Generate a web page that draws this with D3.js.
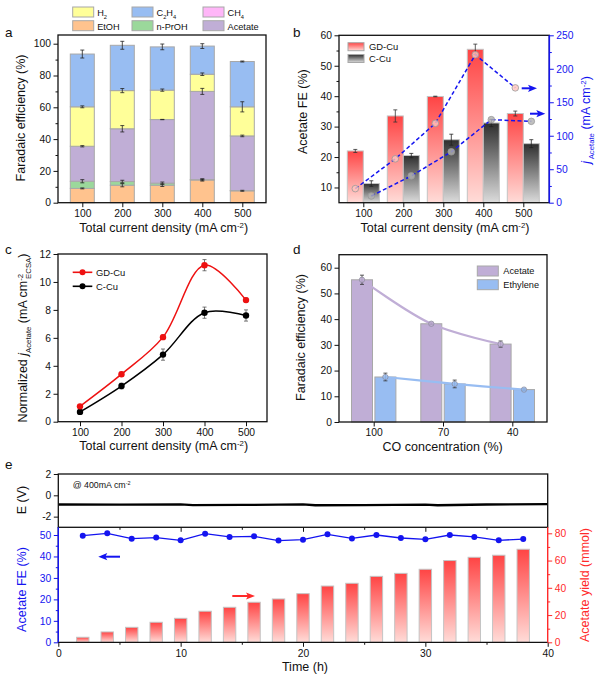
<!DOCTYPE html>
<html>
<head>
<meta charset="utf-8">
<script src="https://cdn.jsdelivr.net/npm/d3@7"></script>
<style>
  html, body { margin: 0; padding: 0; background: #fff; }
  svg { display: block; }
  text { font-family: "Liberation Sans", Arial, sans-serif; }
</style>
</head>
<body>
<div id="chart-area"></div>
<script>
// Panel a - stacked faradaic efficiency
var densities = [100, 200, 300, 400, 500];
var etoh = [9, 11, 11, 14.3, 7.5];
var nPrOH = [4.5, 2.3, 1.3, 0.2, 0.1];
var acetate = [22, 33.2, 40, 55.5, 34.4];
var h2 = [24.8, 24, 18.5, 10.8, 18.3];
var c2h4 = [33.2, 28.5, 27.2, 17.7, 28.5];
var ch4 = [0, 0, 0, 0, 0];
var etohErr = [0.3, 1, 0.8, 0.7, 0.3];
var nPrOHErr = [1, 0.8, 0.7, 0.3, 0];
var acetateErr = [0.4, 2, 0.1, 1.9, 0.5];
var h2Err = [0.6, 1.3, 0.7, 0.8, 3.2];
var c2h4Err = [2.5, 2.5, 1.8, 1.5, 0.3];

// Panel b - acetate FE (bars) and partial current density (dashed lines)
var gdFE = [22, 33.5, 39.9, 55.4, 34.3];
var gdFEErr = [0.5, 2, 0.1, 1.7, 0.8];
var cuFE = [11.3, 20.5, 25.7, 31.2, 24.4];
var cuFEErr = [0.9, 0.7, 1.8, 1.2, 1.3];
var gdJ = [21, 65.5, 118.5, 221, 171.5];
var cuJ = [10, 40, 76, 124, 121.5];

// Panel c - normalized current density
var gdNorm = [1.1, 3.4, 6.05, 11.2, 8.7];
var gdNormErr = [0.1, 0.15, 0.15, 0.4, 0.15];
var cuNorm = [0.7, 2.55, 4.8, 7.8, 7.6];
var cuNormErr = [0.1, 0.2, 0.4, 0.4, 0.4];

// Panel d - CO concentration
var coConc = ["100", "70", "40"];
var coAcetate = [55.3, 38.2, 30.3];
var coAcetateErr = [1.8, 0.3, 1.2];
var coEthylene = [17.5, 14.8, 12.6];
var coEthyleneErr = [1.5, 1.5, 0.3];

// Panel e - stability run
var hours = [2, 4, 6, 8, 10, 12, 14, 16, 18, 20, 22, 24, 26, 28, 30, 32, 34, 36, 38];
var runFE = [49.7, 50.8, 48.3, 48.8, 47.5, 50.6, 49.1, 49.4, 47.4, 47.8, 50.3, 48.4, 50, 48.6, 48, 50, 49.1, 47.5, 48.1];
var runYield = [3.7, 7.6, 11, 14.7, 17.6, 22.8, 25.7, 29.4, 31.8, 35.7, 41.3, 43.3, 48.4, 50.6, 53.6, 60, 62.4, 63.9, 68.3];
var potentialTime = [0, 5, 10, 11, 15, 20, 21, 25, 30, 31, 35, 40];
var potential = [-0.86, -0.87, -0.85, -0.92, -0.9, -0.85, -0.93, -0.92, -0.87, -0.93, -0.86, -0.82];

var colEtOH = "#ffc38e", colPrOH = "#9bd89b", colAcetate = "#c0aed6",
    colH2 = "#ffff99", colC2H4 = "#98bdf2", colCH4 = "#ffb6f8";
var edge = "#a8a8a8";
var blue = "#1414f0", red = "#ff2a2a";

var svg = d3.select("#chart-area").append("svg")
    .attr("width", 600)
    .attr("height", 675);

var defs = svg.append("defs");
function gradient(id, top, bottom) {
    var g = defs.append("linearGradient").attr("id", id)
        .attr("x1", 0).attr("y1", 0).attr("x2", 0).attr("y2", 1);
    g.append("stop").attr("offset", "0%").attr("stop-color", top);
    g.append("stop").attr("offset", "100%").attr("stop-color", bottom);
}
gradient("gradRed", "#ff4444", "#ffdcd8");
gradient("gradDark", "#2e2e2e", "#dcdcdc");

// Text with sub/superscripts. parts: strings or {t, sub, sup, it, dx}
function label(x, y, parts, opt) {
    opt = opt || {};
    var size = opt.size || 12.5;
    var t = svg.append("text")
        .attr("text-anchor", opt.anchor || "middle")
        .attr("font-size", size)
        .attr("fill", opt.color || "#111");
    if (opt.rotate) {
        t.attr("transform", "translate(" + x + "," + y + ") rotate(-90)");
    } else {
        t.attr("x", x).attr("y", y);
    }
    var shift = 0;
    [].concat(parts).forEach(function (p) {
        if (typeof p === "string") p = {t: p};
        var target = (p.sub ? size * 0.3 : p.sup ? -size * 0.35 : 0);
        var s = t.append("tspan").text(p.t).attr("dy", target - shift);
        shift = target;
        if (p.sub || p.sup) s.attr("font-size", size * 0.62);
        if (p.it) s.attr("font-style", "italic");
        if (p.dx) s.attr("dx", p.dx);
    });
    return t;
}

function frame(x0, x1, y0, y1) {
    svg.append("rect")
        .attr("x", x0).attr("y", y0)
        .attr("width", x1 - x0).attr("height", y1 - y0)
        .attr("fill", "none").attr("stroke", "#111").attr("stroke-width", 1.3);
}

// Draw an axis without its domain line. Minor ticks are unlabelled shorter ticks.
function drawAxis(axisFn, scale, tx, ty, major, minor, fmt, color, size) {
    color = color || "#111";
    var g = svg.append("g").attr("transform", "translate(" + tx + "," + ty + ")");
    if (minor) {
        g.append("g").call(axisFn(scale).tickValues(minor).tickSize(2.5).tickFormat(""))
            .call(function (s) { s.select(".domain").remove(); })
            .selectAll("line").attr("stroke", color);
    }
    var m = g.append("g").call(axisFn(scale).tickValues(major).tickSize(4.5).tickPadding(2.5)
        .tickFormat(fmt || function (d) { return d; }));
    m.select(".domain").remove();
    m.selectAll("line").attr("stroke", color);
    m.selectAll("text").attr("fill", color)
        .attr("font-family", "Liberation Sans")
        .attr("font-size", size || 10.3);
}

function errorBars(xFn, yScale, vals, errs, color, cap) {
    cap = cap || 2;
    var g = svg.append("g").attr("stroke", color || "#222").attr("stroke-width", 0.8).attr("fill", "none");
    vals.forEach(function (v, i) {
        if (!errs[i]) return;
        var x = xFn(i), a = yScale(v + errs[i]), b = yScale(v - errs[i]);
        g.append("path").attr("d", "M" + (x - cap) + "," + a + "H" + (x + cap) +
            "M" + x + "," + a + "V" + b +
            "M" + (x - cap) + "," + b + "H" + (x + cap));
    });
}

function arrow(x1, x2, y, color) {
    var dir = x2 > x1 ? 1 : -1;
    svg.append("line").attr("x1", x1).attr("x2", x2 - dir * 5).attr("y1", y).attr("y2", y)
        .attr("stroke", color).attr("stroke-width", 2);
    svg.append("path")
        .attr("d", "M" + x2 + "," + y + "L" + (x2 - dir * 9) + "," + (y - 3.6) +
            "L" + (x2 - dir * 7) + "," + y + "L" + (x2 - dir * 9) + "," + (y + 3.6) + "Z")
        .attr("fill", color);
}

function swatch(x, y, w, h, fill) {
    svg.append("rect").attr("x", x).attr("y", y).attr("width", w).attr("height", h)
        .attr("fill", fill).attr("stroke", edge).attr("stroke-width", 1);
}

/* ---------- a ---------- */
var xA = d3.scaleLinear().domain([100, 500]).range([82.3, 242.3]);
var yA = d3.scaleLinear().domain([0, 100]).range([202.7, 43.7]);

var keysA = ["etoh", "nPrOH", "acetate", "h2", "c2h4", "ch4"];
var fillsA = [colEtOH, colPrOH, colAcetate, colH2, colC2H4, colCH4];
var errsA = [etohErr, nPrOHErr, acetateErr, h2Err, c2h4Err];
var tableA = densities.map(function (d, i) {
    return {density: d, etoh: etoh[i], nPrOH: nPrOH[i], acetate: acetate[i], h2: h2[i], c2h4: c2h4[i], ch4: ch4[i]};
});
var stackA = d3.stack().keys(keysA)(tableA);

svg.append("g").selectAll("g")
    .data(stackA)
    .enter().append("g")
        .attr("fill", function (d, i) { return fillsA[i]; })
    .selectAll("rect")
    .data(function (d) { return d; })
    .enter().append("rect")
        .attr("x", function (d) { return xA(d.data.density) - 12; })
        .attr("width", 24)
        .attr("y", function (d) { return yA(d[1]); })
        .attr("height", function (d) { return yA(d[0]) - yA(d[1]); })
        .attr("stroke", edge)
        .attr("stroke-width", 1);

errsA.forEach(function (errs, k) {
    var tops = stackA[k].map(function (d) { return d[1]; });
    errorBars(function (i) { return xA(densities[i]); }, yA, tops, errs);
});

frame(58, 266, 35, 202.7);
drawAxis(d3.axisBottom, xA, 0, 202.7, densities);
drawAxis(d3.axisLeft, yA, 58, 0, [0, 20, 40, 60, 80, 100], [10, 30, 50, 70, 90]);
label(25, 118, "Faradaic efficiency (%)", {rotate: true});
label(163.7, 232, ["Total current density (mA cm", {t: "-2", sup: true}, ")"]);

[["H", "2", 72.7, 7, colH2], ["C", "2", 132, 7, colC2H4], ["CH", "4", 203, 7, colCH4],
 ["EtOH", "", 72.7, 20.7, colEtOH], ["n-PrOH", "", 132, 20.7, colPrOH], ["Acetate", "", 203, 20.7, colAcetate]
].forEach(function (d) {
    swatch(d[2], d[3], 21, 10, d[4]);
    var parts = [d[0]];
    if (d[1]) parts.push({t: d[1], sub: true});
    if (d[0] === "C") { parts.push("H"); parts.push({t: "4", sub: true}); }
    label(d[2] + 24.5, d[3] + 9, parts, {anchor: "start", size: 9.2});
});

/* ---------- b ---------- */
var xB = d3.scaleLinear().domain([100, 500]).range([363.3, 523.3]);
var yB = d3.scaleLinear().domain([5, 60]).range([202.7, 35.3]);
var yB2 = d3.scaleLinear().domain([0, 250]).range([202.7, 35.3]);

function barsB(vals, offset, grad) {
    svg.append("g").selectAll("rect")
        .data(vals)
        .enter().append("rect")
            .attr("x", function (d, i) { return xB(densities[i]) + offset - 8; })
            .attr("width", 16)
            .attr("y", function (d) { return yB(d); })
            .attr("height", function (d) { return yB(5) - yB(d); })
            .attr("fill", "url(#" + grad + ")")
            .attr("stroke", "#c4c4c4")
            .attr("stroke-width", 1);
}
barsB(gdFE, -8, "gradRed");
barsB(cuFE, 8, "gradDark");
errorBars(function (i) { return xB(densities[i]) - 8; }, yB, gdFE, gdFEErr, "#333");
errorBars(function (i) { return xB(densities[i]) + 8; }, yB, cuFE, cuFEErr, "#222");

function jSeries(vals, offset, fill) {
    var line = d3.line()
        .x(function (d, i) { return xB(densities[i]) + offset; })
        .y(function (d) { return yB2(d); });
    svg.append("path").attr("d", line(vals))
        .attr("fill", "none").attr("stroke", blue)
        .attr("stroke-width", 1.5).attr("stroke-dasharray", "4 2.5");
    svg.append("g").selectAll("circle")
        .data(vals)
        .enter().append("circle")
            .attr("cx", function (d, i) { return xB(densities[i]) + offset; })
            .attr("cy", function (d) { return yB2(d); })
            .attr("r", 3.3)
            .attr("fill", fill)
            .attr("fill-opacity", 0.8)
            .attr("stroke", "#999")
            .attr("stroke-width", 0.8);
}
jSeries(gdJ, -8, "#ffc4bd");
jSeries(cuJ, 8, "#b0b0b0");

// blue right axis line drawn over the frame
frame(339, 549.3, 35.3, 202.7);
svg.append("line").attr("x1", 549.3).attr("x2", 549.3).attr("y1", 35.3).attr("y2", 202.7)
    .attr("stroke", blue).attr("stroke-width", 1.6);
drawAxis(d3.axisBottom, xB, 0, 202.7, densities);
drawAxis(d3.axisLeft, yB, 339, 0, [10, 20, 30, 40, 50, 60], [15, 25, 35, 45, 55]);
drawAxis(d3.axisRight, yB2, 549.3, 0, [0, 50, 100, 150, 200, 250], [25, 75, 125, 175, 225], null, blue);
label(307, 111.7, "Acetate FE (%)", {rotate: true});
label(445, 232, ["Total current density (mA cm", {t: "-2", sup: true}, ")"]);
label(590, 120, [{t: "j", it: true}, {t: " Acetate", sub: true}, "  (mA cm", {t: "-2", sup: true}, ")"], {rotate: true, color: blue});
arrow(521.7, 537, 88.3, blue);
arrow(530, 545.3, 113.7, blue);

swatch(348, 42.7, 16, 8, "url(#gradRed)");
swatch(348, 54.5, 16, 8, "url(#gradDark)");
label(369, 49.6, "GD-Cu", {anchor: "start", size: 9.4});
label(369, 62.4, "C-Cu", {anchor: "start", size: 9.4});

/* ---------- c ---------- */
var xC = d3.scaleLinear().domain([100, 500]).range([80, 246]);
var yC = d3.scaleLinear().domain([0, 12]).range([421.7, 254]);

function normSeries(vals, errs, color) {
    var line = d3.line()
        .x(function (d, i) { return xC(densities[i]); })
        .y(function (d) { return yC(d); })
        .curve(d3.curveCatmullRom.alpha(0.5));
    svg.append("path").attr("d", line(vals))
        .attr("fill", "none").attr("stroke", color).attr("stroke-width", 1.5);
    errorBars(function (i) { return xC(densities[i]); }, yC, vals, errs, "#555");
    svg.append("g").selectAll("circle")
        .data(vals)
        .enter().append("circle")
            .attr("cx", function (d, i) { return xC(densities[i]); })
            .attr("cy", function (d) { return yC(d); })
            .attr("r", 3.2)
            .attr("fill", color);
}
normSeries(cuNorm, cuNormErr, "#000");
normSeries(gdNorm, gdNormErr, "#ee1111");

frame(58, 267, 254, 421.7);
drawAxis(d3.axisBottom, xC, 0, 421.7, densities);
drawAxis(d3.axisLeft, yC, 58, 0, [0, 2, 4, 6, 8, 10, 12]);
label(27, 338, ["Normalized ", {t: "j", it: true}, {t: "Acetate", sub: true}, "  (mA cm",
    {t: "-2", sup: true}, {t: "ECSA", sub: true, dx: -5}, ")"], {rotate: true});
label(163.7, 450, ["Total current density (mA cm", {t: "-2", sup: true}, ")"]);

[["GD-Cu", "#ee1111", 272.3], ["C-Cu", "#000", 286.3]].forEach(function (d) {
    svg.append("line").attr("x1", 72.7).attr("x2", 92.3).attr("y1", d[2]).attr("y2", d[2])
        .attr("stroke", d[1]).attr("stroke-width", 1.6);
    svg.append("circle").attr("cx", 82.5).attr("cy", d[2]).attr("r", 3).attr("fill", d[1]);
    label(96, d[2] + 3.3, d[0], {anchor: "start", size: 9.4});
});

/* ---------- d ---------- */
var xD = d3.scalePoint().domain(coConc).range([373.7, 512.3]);
var yD = d3.scaleLinear().domain([0, 60]).range([422, 267.7]);

function seriesD(vals, errs, offset, color) {
    svg.append("g").selectAll("rect")
        .data(vals)
        .enter().append("rect")
            .attr("x", function (d, i) { return xD(coConc[i]) + offset - 10.5; })
            .attr("width", 21)
            .attr("y", function (d) { return yD(d); })
            .attr("height", function (d) { return yD(0) - yD(d); })
            .attr("fill", color)
            .attr("stroke", edge)
            .attr("stroke-width", 1);
    var line = d3.line()
        .x(function (d, i) { return xD(coConc[i]) + offset; })
        .y(function (d) { return yD(d); })
        .curve(d3.curveCatmullRom.alpha(0.5));
    svg.append("path").attr("d", line(vals))
        .attr("fill", "none").attr("stroke", color).attr("stroke-width", 2.2);
    errorBars(function (i) { return xD(coConc[i]) + offset; }, yD, vals, errs, "#333");
    svg.append("g").selectAll("circle")
        .data(vals)
        .enter().append("circle")
            .attr("cx", function (d, i) { return xD(coConc[i]) + offset; })
            .attr("cy", function (d) { return yD(d); })
            .attr("r", 2.7)
            .attr("fill", color)
            .attr("fill-opacity", 0.85)
            .attr("stroke", "#8a8a9a")
            .attr("stroke-width", 0.7);
}
seriesD(coAcetate, coAcetateErr, -11.7, colAcetate);
seriesD(coEthylene, coEthyleneErr, 11.7, colC2H4);

frame(339, 547, 254.7, 422);
drawAxis(d3.axisBottom, xD, 0, 422, coConc);
drawAxis(d3.axisLeft, yD, 339, 0, [0, 10, 20, 30, 40, 50, 60]);
label(305, 337.5, "Faradaic efficiency (%)", {rotate: true});
label(442.7, 450.5, "CO concentration (%)");
swatch(477.3, 266, 21, 10, colAcetate);
swatch(477.3, 279.7, 21, 10, colC2H4);
label(503.3, 274, "Acetate", {anchor: "start", size: 9.2});
label(503.3, 288, "Ethylene", {anchor: "start", size: 9.2});

/* ---------- e ---------- */
var xE = d3.scaleLinear().domain([0, 40]).range([58.3, 547.7]);
var yEtop = d3.scaleLinear().domain([-3, 2]).range([527.3, 474]);
var yFE = d3.scaleLinear().domain([0, 50]).range([642.3, 535]);
var yYield = d3.scaleLinear().domain([0, 80]).range([642.3, 533.3]);

svg.append("g").selectAll("rect")
    .data(runYield)
    .enter().append("rect")
        .attr("x", function (d, i) { return xE(hours[i]) - 6.2; })
        .attr("width", 12.4)
        .attr("y", function (d) { return yYield(d); })
        .attr("height", function (d) { return yYield(0) - yYield(d); })
        .attr("fill", "url(#gradRed)")
        .attr("stroke", "#c4c4c4")
        .attr("stroke-width", 1);

var lineFE = d3.line()
    .x(function (d, i) { return xE(hours[i]); })
    .y(function (d) { return yFE(d); });
svg.append("path").attr("d", lineFE(runFE))
    .attr("fill", "none").attr("stroke", blue).attr("stroke-width", 1.3);
svg.append("g").selectAll("circle")
    .data(runFE)
    .enter().append("circle")
        .attr("cx", function (d, i) { return xE(hours[i]); })
        .attr("cy", function (d) { return yFE(d); })
        .attr("r", 3)
        .attr("fill", blue);

var lineE = d3.line()
    .x(function (d, i) { return xE(potentialTime[i]); })
    .y(function (d) { return yEtop(d); });
svg.append("path").attr("d", lineE(potential))
    .attr("fill", "none").attr("stroke", "#000").attr("stroke-width", 2.3);

frame(58.3, 547.7, 474, 527.3);
svg.append("path").attr("d", "M58.3,527.3V642.3H547.7")
    .attr("fill", "none").attr("stroke", "#111").attr("stroke-width", 1.3);
svg.append("line").attr("x1", 547.7).attr("x2", 547.7).attr("y1", 527.3).attr("y2", 642.3)
    .attr("stroke", red).attr("stroke-width", 1.4);
svg.append("line").attr("x1", 58.3).attr("x2", 58.3).attr("y1", 527.3).attr("y2", 642.3)
    .attr("stroke", blue).attr("stroke-width", 1.4);

drawAxis(d3.axisBottom, xE, 0, 642.3, [0, 10, 20, 30, 40], [5, 15, 25, 35]);
drawAxis(d3.axisBottom, xE, 0, 527.3, [10, 20, 30], [5, 15, 25, 35], function () { return ""; });
drawAxis(d3.axisLeft, yEtop, 58.3, 0, [-2, 0, 2]);
drawAxis(d3.axisLeft, yFE, 58.3, 0, [0, 10, 20, 30, 40, 50], [5, 15, 25, 35, 45], null, blue);
drawAxis(d3.axisRight, yYield, 547.7, 0, [0, 20, 40, 60, 80], [10, 30, 50, 70], null, red);

label(26, 500, "E (V)", {rotate: true});
label(26, 589.5, "Acetate FE (%)", {rotate: true, color: blue});
label(589, 585, "Acetate yield (mmol)", {rotate: true, color: red});
label(305, 670.5, "Time (h)");
label(72.7, 488, ["@ 400mA cm", {t: "-2", sup: true}], {anchor: "start", size: 8.8});
arrow(120, 98.3, 556.7, blue);
arrow(232.3, 255, 596, red);

/* ---------- panel letters ---------- */
[["a", 5, 37], ["b", 293, 37], ["c", 5, 254], ["d", 293, 254], ["e", 5, 469]].forEach(function (d) {
    label(d[1], d[2], d[0], {anchor: "start", size: 13.5});
});
</script>
</body>
</html>
